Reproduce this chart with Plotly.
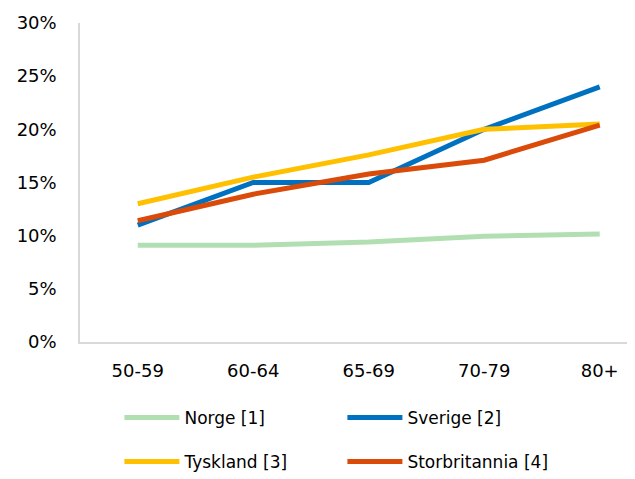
import plotly.graph_objects as go

categories = ["50-59", "60-64", "65-69", "70-79", "80+"]
norge = [0.091, 0.091, 0.094, 0.0995, 0.1015]
sverige = [0.11, 0.15, 0.15, 0.20, 0.24]
tyskland = [0.13, 0.155, 0.176, 0.20, 0.205]
storbritannia = [0.114, 0.139, 0.158, 0.171, 0.204]

series = [
    ("Norge [1]", norge, "#B2DFB2", "legend"),
    ("Sverige [2]", sverige, "#0070C0", "legend"),
    ("Tyskland [3]", tyskland, "#FFC000", "legend2"),
    ("Storbritannia [4]", storbritannia, "#DA4A08", "legend2"),
]

FONT = "DejaVu Sans"

fig = go.Figure()
for name, vals, color, leg in series:
    fig.add_trace(go.Scatter(
        x=categories, y=vals, name=name, mode="lines",
        line=dict(color=color, width=5),
        legend=leg,
    ))

legend_common = dict(
    orientation="h", xanchor="left", yanchor="middle",
    font=dict(family=FONT, size=17, color="#000000"),
    entrywidth=153, entrywidthmode="pixels",
    bgcolor="rgba(0,0,0,0)", itemwidth=55,
    traceorder="normal",
)

fig.update_layout(
    width=643, height=479,
    margin=dict(l=72, r=0, t=15, b=145, autoexpand=False),
    paper_bgcolor="white", plot_bgcolor="white",
    font=dict(family=FONT, size=18, color="#000000"),
    showlegend=True,
    legend=dict(x=0.07 * 563 / 571, y=-0.238, **legend_common),
    legend2=dict(x=0.07 * 563 / 571, y=-0.376, **legend_common),
    xaxis=dict(
        type="category", range=[-0.5, 4.444],
        showline=True, linecolor="#D9D9D9", linewidth=1.5,
        showgrid=False, zeroline=False, ticks="",
        ticklabelstandoff=12,
        tickfont=dict(family=FONT, size=18),
    ),
    yaxis=dict(
        range=[0, 0.30], tickvals=[0, 0.05, 0.10, 0.15, 0.20, 0.25, 0.30],
        tickformat=".0%",
        showline=True, linecolor="#D9D9D9", linewidth=1.5,
        showgrid=False, zeroline=False, ticks="",
        ticklabelstandoff=18,
        tickfont=dict(family=FONT, size=18),
    ),
)

fig.write_html("out.html")
